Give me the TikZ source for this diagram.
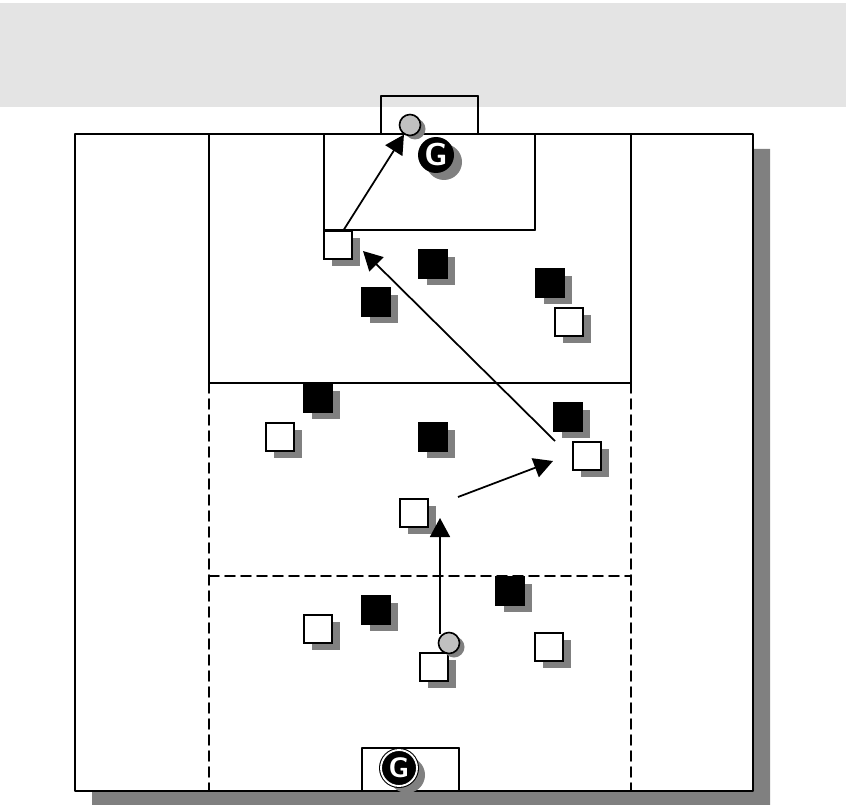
\documentclass[tikz,border=0pt]{standalone}
\usetikzlibrary{arrows.meta,shadows}
\usepackage{tkz-euclide}
\definecolor{BandClr}{RGB}{228,228,228}
\definecolor{ShadowClr}{RGB}{128,128,128}
\definecolor{BallClr}{RGB}{192,192,192}

\tikzset{
  mate/.style={rectangle,draw=black,line width=1.5pt,fill=white,minimum size=8.4mm,inner sep=0pt,
    drop shadow={shadow xshift=2.4mm,shadow yshift=-2.1mm,fill=ShadowClr,opacity=1}},
  rival/.style={mate,fill=black},
  ball/.style={circle,draw=black,line width=1.4pt,fill=BallClr,minimum size=6.3mm,inner sep=0pt,
    drop shadow={shadow xshift=1.5mm,shadow yshift=-1.2mm,fill=ShadowClr,opacity=1}},
  keeper/.style={circle,fill=black,text=white,minimum size=10.8mm,inner sep=0pt,
    font=\sffamily\bfseries\fontsize{27}{27}\selectfont,
    drop shadow={shadow xshift=2.4mm,shadow yshift=-2.1mm,fill=ShadowClr,opacity=1}},
  pass/.style={line width=1.5pt,-{Triangle[length=5.7mm,width=6mm]}},
  halfway/.style={line width=1.4pt,dash pattern=on 3mm off 1.8mm}
}

\begin{document}
\begin{tikzpicture}[x=0.3mm,y=-0.3mm]
\useasboundingbox (0,0) rectangle (849,805);
\tkzSetUpLine[line width=1.4pt,color=black]

\fill[BandClr] (0,3) rectangle (846,107);

\tkzDefPoints{75/134/FA,75/791/FB,753/791/FC,753/134/FD}
\tkzDefPoints{92/149/SA,92/805/SB,770/805/SC,770/149/SD}
\tkzDefPoints{209/134/L1,209/383/L2,209/576/L3,209/791/L4}
\tkzDefPoints{631/134/R1,631/383/R2,631/576/R3,631/791/R4}
\tkzDefPoints{324/134/PA,324/230/PB,535/230/PC,535/134/PD}
\tkzDefPoints{381/134/GA,381/96/GB,478/96/GC,478/134/GD}
\tkzDefPoints{362/791/HA,362/748/HB,459/748/HC,459/791/HD}

\tkzFillPolygon[fill=ShadowClr](SA,SB,SC,SD)
\tkzFillPolygon[fill=white](FA,FB,FC,FD)

\tkzDrawSegments(L1,L2 R1,R2 L2,R2)
\tkzDrawSegments[halfway](L2,L4 R2,R4 L3,R3)
\tkzDrawSegments(PA,PB PB,PC PC,PD)
\tkzDrawSegments(GA,GB GB,GC GC,GD)
\tkzDrawSegments(HA,HB HB,HC HC,HD)
\tkzDrawPolygon(FA,FB,FC,FD)

% keepers
\node[keeper] (gkA) at (436,155) {G};
\node[keeper,draw=black,double=white,double distance=1.6pt,line width=0.9pt,minimum size=10.8mm,
  font=\sffamily\bfseries\fontsize{24}{24}\selectfont] (gkB) at (399,768) {G};

% attackers
\node[mate] (w1) at (338,245) {};
\node[mate] (w2) at (569,322) {};
\node[mate] (w3) at (280,437) {};
\node[mate] (w4) at (587,456) {};
\node[mate] (w5) at (414,513) {};
\node[mate] (w6) at (318,629) {};
\node[mate] (w7) at (434,667) {};
\node[mate] (w8) at (549,647) {};

% defenders
\node[rival] (b1) at (433,264) {};
\node[rival] (b2) at (550,283) {};
\node[rival] (b3) at (376,302) {};
\node[rival] (b4) at (318,398) {};
\node[rival] (b5) at (568,417) {};
\node[rival] (b6) at (433,437) {};
\node[rival] (b7) at (510,591) {};
\node[rival] (b8) at (376,610) {};

\node[ball] (ballA) at (410,125) {};
\node[ball] (ballB) at (449,643) {};

\tkzDefPoints{343/231/S1,555/441/S2,363/251/E2,458/497/S3,553/461/E3,440/634/S4,440/518/E4}
\draw[pass] (S1) -- (ballA);
\draw[pass] (S2) -- (E2);
\draw[pass] (S3) -- (E3);
\draw[pass] (S4) -- (E4);

\end{tikzpicture}
\end{document}
